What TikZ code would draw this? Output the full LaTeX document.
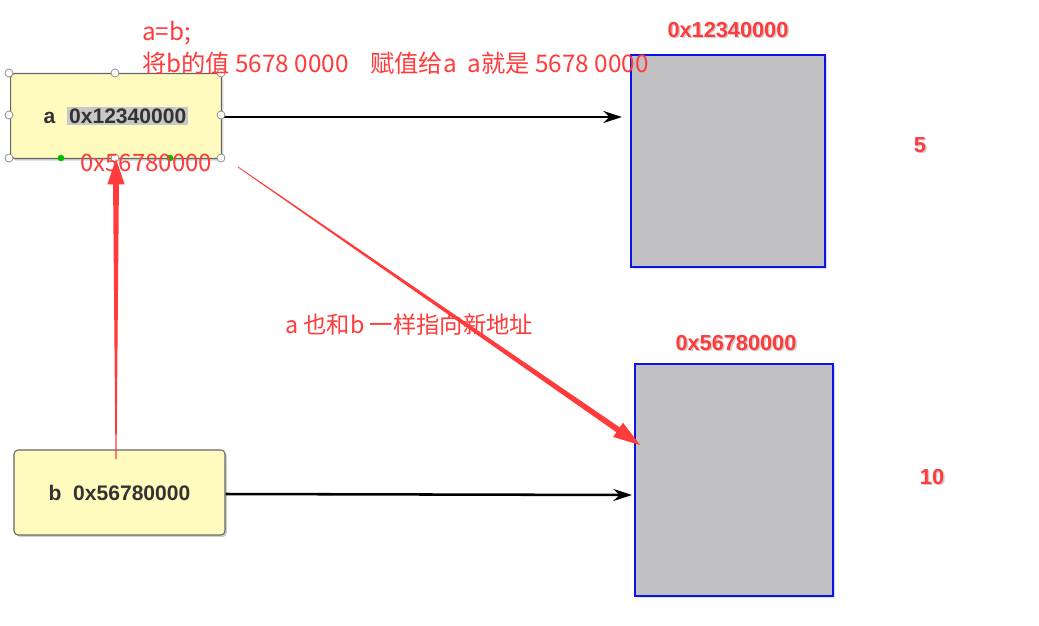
\documentclass[tikz,border=0pt]{standalone}
\usepackage{fontspec}
\setmainfont{Liberation Sans}
\newfontfamily\cjk{Noto Sans CJK SC}
\usetikzlibrary{arrows.meta,calc,shadows}
\definecolor{note}{HTML}{FF3B3B}
\definecolor{boxyellow}{HTML}{FFFBBF}
\definecolor{memgray}{HTML}{C1C0C2}
\definecolor{memblue}{HTML}{0A14E6}
\definecolor{txtgray}{HTML}{333333}
\definecolor{hl}{HTML}{C8C8C8}
\tikzset{
  varbox/.style={draw=gray!80!black, line width=0.8pt, fill=boxyellow, rounded corners=3pt,
    minimum width=158pt, minimum height=63.75pt, inner sep=0pt,
    font=\fontsize{15.8}{18}\selectfont\bfseries, text=txtgray,
    drop shadow={opacity=0.35, shadow xshift=1.5pt, shadow yshift=-1.5pt}},
  membox/.style={draw=memblue, line width=1.9pt, fill=memgray, inner sep=0pt,
    drop shadow={opacity=0.25, shadow xshift=1.5pt, shadow yshift=-1.5pt}},
  notetxt/.style={text=note, font=\cjk\fontsize{18.2}{20}\selectfont, inner sep=0pt, anchor=west},
  addr/.style={text=note, font=\fontsize{16.3}{18}\selectfont\bfseries, inner sep=0pt},
  ptr/.style={line width=1.9pt, -{Stealth[length=14pt,width=9pt]}},
  handle/.style={circle, draw=gray, fill=white, line width=0.5pt, inner sep=0pt, minimum size=6pt},
  gdot/.style={circle, fill=green!75!black, inner sep=0pt, minimum size=5pt},
}
\begin{document}
\begin{tikzpicture}[x=0.75pt,y=-0.75pt]
\useasboundingbox[fill=white] (0,0) rectangle (1039,625);

% variable boxes
\node[varbox] (a) at (116,116) {a\ \ {\fboxsep=1.5pt\colorbox{hl}{0x12340000}}};
\node[varbox, minimum width=158.25pt] (b) at (119.5,492.5) {b\ \ 0x56780000};

% memory boxes
\node[membox, minimum width=145.5pt, minimum height=159pt] (m1) at (728,161) {};
\node[membox, minimum width=148.5pt, minimum height=174pt] (m2) at (734,480) {};

% address labels
\node[addr, text=gray!40] at (729.5,31.5) {0x12340000};
\node[addr] (l1) at (728,30) {0x12340000};
\node[addr, text=gray!40] at (737.5,344.5) {0x56780000};
\node[addr] (l2) at (736,343) {0x56780000};
\node[addr, text=gray!40] at (921.5,146.5) {5};
\node[addr] (v1) at (920,145) {5};
\node[addr, text=gray!40] at (933.5,478.5) {10};
\node[addr] (v2) at (932,477) {10};

% pointers
\coordinate (t1) at (622,117);
\coordinate (t2) at (632,495);
\draw[ptr] (a.east) ++(0,1) -- (t1);
\draw[ptr] (b.east) ++(0,1.5) -- (t2);

% selection handles
\foreach \p [count=\i] in {(9,73),(115,73),(221,73),(9,115),(221,115),(9,158),(115,158),(221,158)}
  \node[handle] (h\i) at \p {};
\node[gdot] (g1) at (61,158) {};
\node[gdot] (g2) at (170,158) {};

% annotations
\node[notetxt] (n1) at (142,33) {a=b;};
\node[notetxt] (n2) at (142,63) {将b的值 5678 0000\ \ \ \ 赋值给a\ \ a就是 5678 0000};
\node[notetxt, font=\cjk\fontsize{18}{20}\selectfont] (n3) at (80,163) {0x56780000};
\node[notetxt, font=\cjk\fontsize{17.5}{20}\selectfont] (n4) at (285,325) {a 也和b 一样指向新地址};

% red tapered arrow b -> a
\coordinate (s1) at (116,459);
\coordinate (e1) at (a.south);
\coordinate (k1) at ($(e1)!19pt!(s1)$);
\fill[note] ($(s1)!0.4pt!90:(e1)$) -- ($(k1)!2.2pt!90:(e1)$) -- ($(k1)!6.5pt!90:(e1)$) -- (e1)
  -- ($(k1)!6.5pt!-90:(e1)$) -- ($(k1)!2.2pt!-90:(e1)$) -- ($(s1)!0.4pt!-90:(e1)$) -- cycle;

% red tapered arrow -> new address
\coordinate (s2) at (238,167);
\coordinate (e2) at (640,445);
\coordinate (k2) at ($(e2)!20pt!(s2)$);
\fill[note] ($(s2)!0.3pt!90:(e2)$) -- ($(k2)!2.2pt!90:(e2)$) -- ($(k2)!6.5pt!90:(e2)$) -- (e2)
  -- ($(k2)!6.5pt!-90:(e2)$) -- ($(k2)!2.2pt!-90:(e2)$) -- ($(s2)!0.3pt!-90:(e2)$) -- cycle;
\end{tikzpicture}
\end{document}
